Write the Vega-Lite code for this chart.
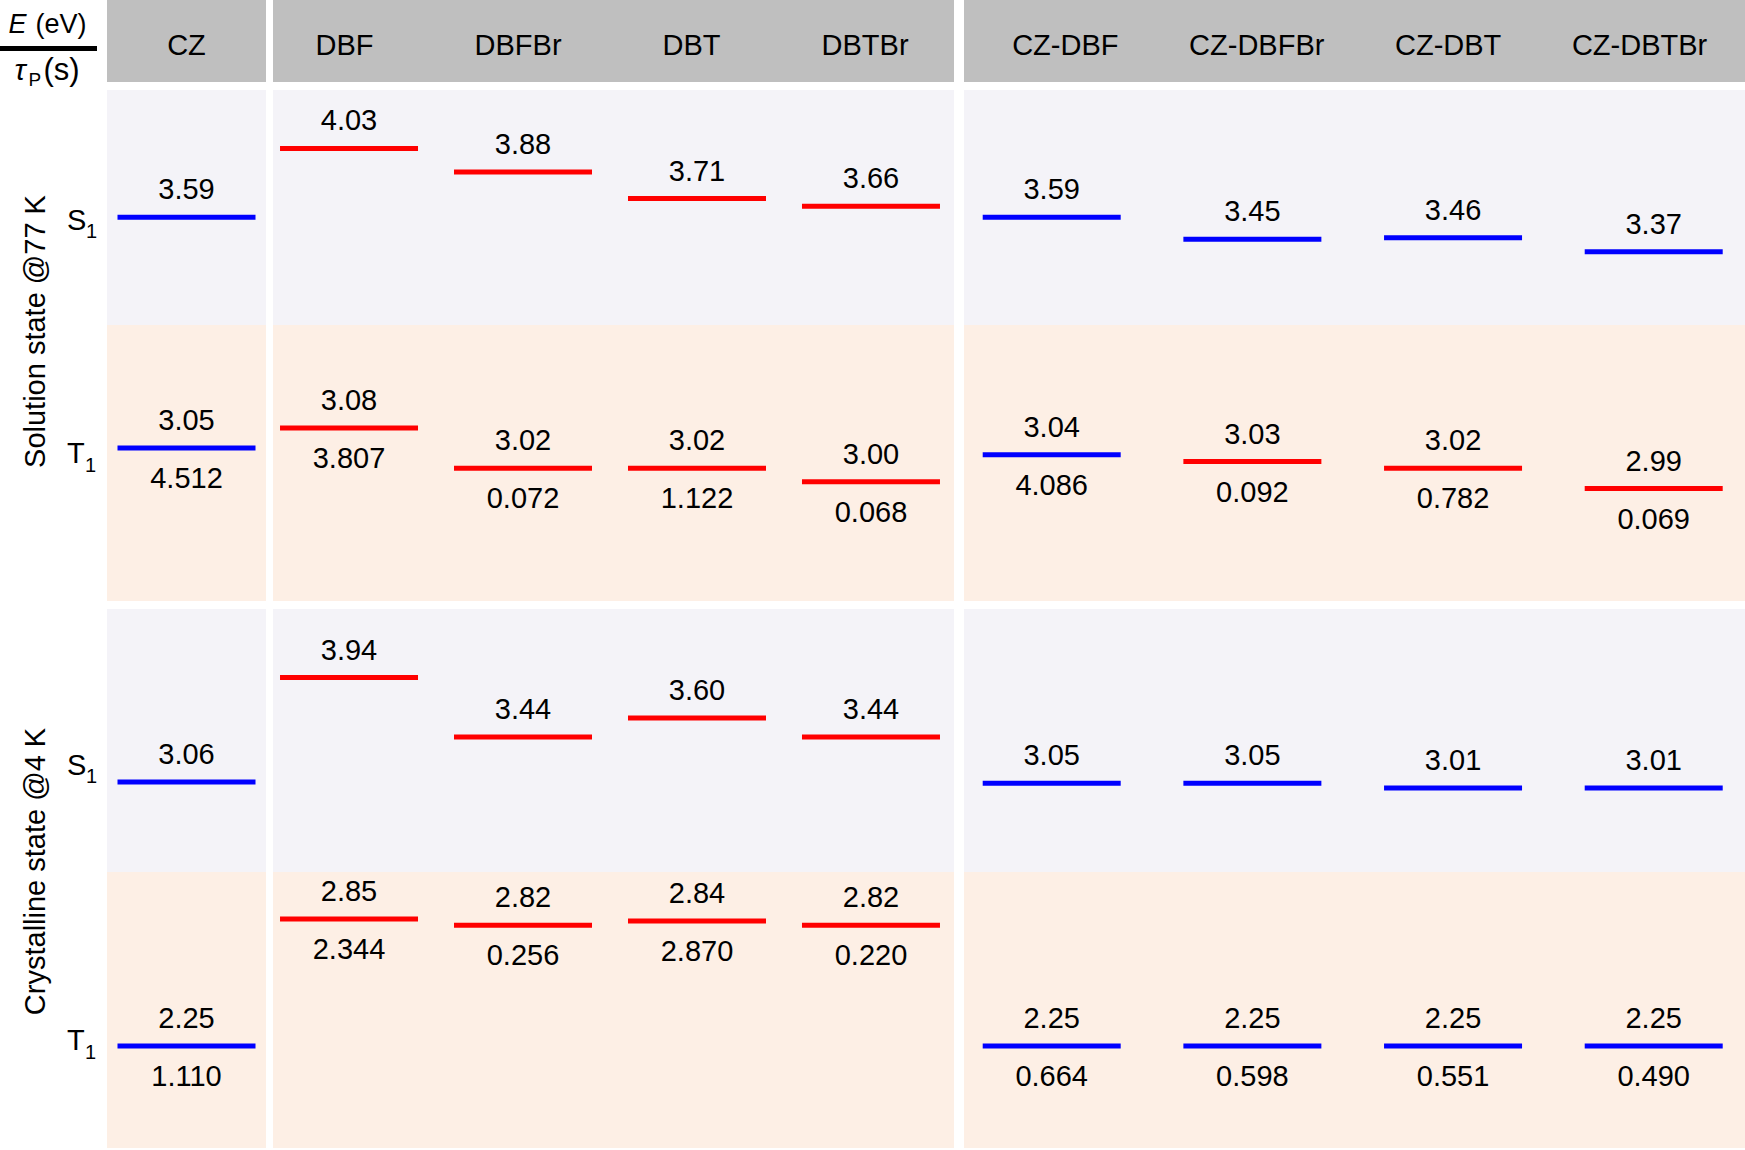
{
  "$schema": "https://vega.github.io/schema/vega-lite/v6.json",
  "padding": 0,
  "background": "white",
  "config": {"font": "Liberation Sans", "view": {"stroke": null}},
  "datasets": {
    "levels": [
      {"row": "sS", "grp": "a", "compound": "CZ", "E": 3.59, "unit": "CZ"},
      {"row": "sS", "grp": "b", "compound": "DBF", "E": 4.03, "unit": "DB"},
      {"row": "sS", "grp": "b", "compound": "DBFBr", "E": 3.88, "unit": "DB"},
      {"row": "sS", "grp": "b", "compound": "DBT", "E": 3.71, "unit": "DB"},
      {"row": "sS", "grp": "b", "compound": "DBTBr", "E": 3.66, "unit": "DB"},
      {"row": "sS", "grp": "c", "compound": "CZ-DBF", "E": 3.59, "unit": "CZ"},
      {"row": "sS", "grp": "c", "compound": "CZ-DBFBr", "E": 3.45, "unit": "CZ"},
      {"row": "sS", "grp": "c", "compound": "CZ-DBT", "E": 3.46, "unit": "CZ"},
      {"row": "sS", "grp": "c", "compound": "CZ-DBTBr", "E": 3.37, "unit": "CZ"},
      {"row": "sT", "grp": "a", "compound": "CZ", "E": 3.05, "tau": "4.512", "unit": "CZ"},
      {"row": "sT", "grp": "b", "compound": "DBF", "E": 3.08, "tau": "3.807", "unit": "DB"},
      {"row": "sT", "grp": "b", "compound": "DBFBr", "E": 3.02, "tau": "0.072", "unit": "DB"},
      {"row": "sT", "grp": "b", "compound": "DBT", "E": 3.02, "tau": "1.122", "unit": "DB"},
      {"row": "sT", "grp": "b", "compound": "DBTBr", "E": 3.00, "tau": "0.068", "unit": "DB"},
      {"row": "sT", "grp": "c", "compound": "CZ-DBF", "E": 3.04, "tau": "4.086", "unit": "CZ"},
      {"row": "sT", "grp": "c", "compound": "CZ-DBFBr", "E": 3.03, "tau": "0.092", "unit": "DB"},
      {"row": "sT", "grp": "c", "compound": "CZ-DBT", "E": 3.02, "tau": "0.782", "unit": "DB"},
      {"row": "sT", "grp": "c", "compound": "CZ-DBTBr", "E": 2.99, "tau": "0.069", "unit": "DB"},
      {"row": "cS", "grp": "a", "compound": "CZ", "E": 3.06, "unit": "CZ"},
      {"row": "cS", "grp": "b", "compound": "DBF", "E": 3.94, "unit": "DB"},
      {"row": "cS", "grp": "b", "compound": "DBFBr", "E": 3.44, "unit": "DB"},
      {"row": "cS", "grp": "b", "compound": "DBT", "E": 3.60, "unit": "DB"},
      {"row": "cS", "grp": "b", "compound": "DBTBr", "E": 3.44, "unit": "DB"},
      {"row": "cS", "grp": "c", "compound": "CZ-DBF", "E": 3.05, "unit": "CZ"},
      {"row": "cS", "grp": "c", "compound": "CZ-DBFBr", "E": 3.05, "unit": "CZ"},
      {"row": "cS", "grp": "c", "compound": "CZ-DBT", "E": 3.01, "unit": "CZ"},
      {"row": "cS", "grp": "c", "compound": "CZ-DBTBr", "E": 3.01, "unit": "CZ"},
      {"row": "cT", "grp": "a", "compound": "CZ", "E": 2.25, "tau": "1.110", "unit": "CZ"},
      {"row": "cT", "grp": "b", "compound": "DBF", "E": 2.85, "tau": "2.344", "unit": "DB"},
      {"row": "cT", "grp": "b", "compound": "DBFBr", "E": 2.82, "tau": "0.256", "unit": "DB"},
      {"row": "cT", "grp": "b", "compound": "DBT", "E": 2.84, "tau": "2.870", "unit": "DB"},
      {"row": "cT", "grp": "b", "compound": "DBTBr", "E": 2.82, "tau": "0.220", "unit": "DB"},
      {"row": "cT", "grp": "c", "compound": "CZ-DBF", "E": 2.25, "tau": "0.664", "unit": "CZ"},
      {"row": "cT", "grp": "c", "compound": "CZ-DBFBr", "E": 2.25, "tau": "0.598", "unit": "CZ"},
      {"row": "cT", "grp": "c", "compound": "CZ-DBT", "E": 2.25, "tau": "0.551", "unit": "CZ"},
      {"row": "cT", "grp": "c", "compound": "CZ-DBTBr", "E": 2.25, "tau": "0.490", "unit": "CZ"}
    ],
    "labels": [
      {"row": "sS", "main": "S", "sub": "1"},
      {"row": "sT", "main": "T", "sub": "1"},
      {"row": "cS", "main": "S", "sub": "1"},
      {"row": "cT", "main": "T", "sub": "1"}
    ],
    "titles": [
      {"block": "s", "t": "Solution state @77 K"},
      {"block": "c", "t": "Crystalline state @4 K"}
    ],
    "corner": [
      {"part": "top", "sym": "E", "unitText": "(eV)"},
      {"part": "bottom", "sym": "τ", "sub": "P", "unitText": "(s)"}
    ]
  },
  "spacing": 0,
  "vconcat": [
    {
      "spacing": 10,
      "hconcat": [
        {
          "spacing": 0,
          "vconcat": [
            {"width": 97, "height": 46, "data": {"name": "corner"}, "transform": [{"filter": "datum.part === 'top'"}],
             "layer": [
               {"mark": {"type": "text", "fontSize": 27, "fontStyle": "italic", "align": "left", "baseline": "alphabetic", "dx": -40, "dy": 10}, "encoding": {"text": {"field": "sym", "type": "nominal"}}},
               {"mark": {"type": "text", "fontSize": 27, "align": "left", "baseline": "alphabetic", "dx": -13, "dy": 10}, "encoding": {"text": {"field": "unitText", "type": "nominal"}}}
             ]},
            {"width": 97, "height": 5, "view": {"fill": "#000000", "stroke": null}, "data": {"name": "corner"}, "transform": [{"filter": "datum.part === 'none'"}],
             "mark": {"type": "text"}, "encoding": {"text": {"field": "sym", "type": "nominal"}}},
            {"width": 97, "height": 39, "data": {"name": "corner"}, "transform": [{"filter": "datum.part === 'bottom'"}],
             "layer": [
               {"mark": {"type": "text", "fontSize": 30, "fontStyle": "italic", "align": "left", "baseline": "alphabetic", "dx": -34, "dy": 9}, "encoding": {"text": {"field": "sym", "type": "nominal"}}},
               {"mark": {"type": "text", "fontSize": 19, "align": "left", "baseline": "alphabetic", "dx": -20, "dy": 15}, "encoding": {"text": {"field": "sub", "type": "nominal"}}},
               {"mark": {"type": "text", "fontSize": 31, "align": "left", "baseline": "alphabetic", "dx": -5, "dy": 9}, "encoding": {"text": {"field": "unitText", "type": "nominal"}}}
             ]}
          ]
        },
        {
          "spacing": 10,
          "hconcat": [
            {
              "spacing": 7,
              "hconcat": [
                {"width": 159, "height": 82, "view": {"fill": "#bfbfbf", "stroke": null}, "data": {"name": "levels"},
                 "transform": [{"filter": "datum.row === 'sS' && datum.grp === 'a'"}],
                 "mark": {"type": "text", "fontSize": 29, "baseline": "alphabetic", "dy": 14},
                 "encoding": {"x": {"field": "compound", "type": "nominal", "sort": null, "axis": null, "scale": {"type": "point", "padding": 0.5}},
                              "text": {"field": "compound", "type": "nominal"}}},
                {"width": 681, "height": 82, "view": {"fill": "#bfbfbf", "stroke": null}, "data": {"name": "levels"},
                 "transform": [{"filter": "datum.row === 'sS' && datum.grp === 'b'"}],
                 "mark": {"type": "text", "fontSize": 29, "baseline": "alphabetic", "dy": 14},
                 "encoding": {"x": {"field": "compound", "type": "nominal", "sort": null, "axis": null, "scale": {"type": "point", "padding": 0.4625, "align": 0.446}},
                              "text": {"field": "compound", "type": "nominal"}}}
              ]
            },
            {"width": 781, "height": 82, "view": {"fill": "#bfbfbf", "stroke": null}, "data": {"name": "levels"},
             "transform": [{"filter": "datum.row === 'sS' && datum.grp === 'c'"}],
             "mark": {"type": "text", "fontSize": 29, "baseline": "alphabetic", "dy": 14},
             "encoding": {"x": {"field": "compound", "type": "nominal", "sort": null, "axis": null, "scale": {"type": "point", "padding": 0.54, "align": 0.49}},
                          "text": {"field": "compound", "type": "nominal"}}}
          ]
        }
      ]
    },
    {
      "spacing": 8,
      "vconcat": [
        {
          "spacing": 0,
          "hconcat": [
            {"width": 64, "height": 511, "data": {"name": "titles"}, "transform": [{"filter": "datum.block === 's'"}],
             "mark": {"type": "text", "fontSize": 29, "angle": 270, "dx": 14, "dy": 4},
             "encoding": {"text": {"field": "t", "type": "nominal"}}},
            {
              "spacing": 0,
              "vconcat": [
                {
                  "spacing": 10,
                  "hconcat": [
                    {
                      "spacing": 7,
                      "hconcat": [
                        {"width": 36, "height": 235, "data": {"name": "labels"}, "transform": [{"filter": "datum.row === 'sS'"}],
                         "layer": [
                           {"mark": {"type": "text", "fontSize": 29, "align": "left", "baseline": "alphabetic", "dy": 22, "dx": -15}, "encoding": {"text": {"field": "main", "type": "nominal"}}},
                           {"mark": {"type": "text", "fontSize": 20, "align": "left", "baseline": "alphabetic", "dy": 30, "dx": 4}, "encoding": {"text": {"field": "sub", "type": "nominal"}}}
                         ]},
                        {"width": 159, "height": 235, "view": {"fill": "#f4f3f8", "stroke": null}, "data": {"name": "levels"},
                         "transform": [{"filter": "datum.row === 'sS' && datum.grp === 'a'"}],
                         "encoding": {"x": {"field": "compound", "type": "nominal", "sort": null, "axis": null, "scale": {"type": "point", "padding": 0.5}},
                                      "y": {"field": "E", "type": "quantitative", "axis": null, "scale": {"domain": [2.903, 4.4025], "nice": false, "zero": false}}},
                         "layer": [
                           {"mark": {"type": "tick", "thickness": 5, "size": 138, "opacity": 1},
                            "encoding": {"color": {"field": "unit", "type": "nominal", "legend": null, "scale": {"domain": ["CZ", "DB"], "range": ["#0000ff", "#ff0000"]}}}},
                           {"mark": {"type": "text", "fontSize": 29, "baseline": "alphabetic", "dy": -18},
                            "encoding": {"text": {"field": "E", "type": "quantitative", "format": ".2f"}}}
                         ]},
                        {"width": 681, "height": 235, "view": {"fill": "#f4f3f8", "stroke": null}, "data": {"name": "levels"},
                         "transform": [{"filter": "datum.row === 'sS' && datum.grp === 'b'"}],
                         "encoding": {"x": {"field": "compound", "type": "nominal", "sort": null, "axis": null, "scale": {"type": "point", "padding": 0.457, "align": 0.478}},
                                      "y": {"field": "E", "type": "quantitative", "axis": null, "scale": {"domain": [2.903, 4.4025], "nice": false, "zero": false}}},
                         "layer": [
                           {"mark": {"type": "tick", "thickness": 5, "size": 138, "opacity": 1},
                            "encoding": {"color": {"field": "unit", "type": "nominal", "legend": null, "scale": {"domain": ["CZ", "DB"], "range": ["#0000ff", "#ff0000"]}}}},
                           {"mark": {"type": "text", "fontSize": 29, "baseline": "alphabetic", "dy": -18},
                            "encoding": {"text": {"field": "E", "type": "quantitative", "format": ".2f"}}}
                         ]}
                      ]
                    },
                    {"width": 781, "height": 235, "view": {"fill": "#f4f3f8", "stroke": null}, "data": {"name": "levels"},
                     "transform": [{"filter": "datum.row === 'sS' && datum.grp === 'c'"}],
                     "encoding": {"x": {"field": "compound", "type": "nominal", "sort": null, "axis": null, "scale": {"type": "point", "padding": 0.446, "align": 0.49}},
                                  "y": {"field": "E", "type": "quantitative", "axis": null, "scale": {"domain": [2.903, 4.4025], "nice": false, "zero": false}}},
                     "layer": [
                       {"mark": {"type": "tick", "thickness": 5, "size": 138, "opacity": 1},
                        "encoding": {"color": {"field": "unit", "type": "nominal", "legend": null, "scale": {"domain": ["CZ", "DB"], "range": ["#0000ff", "#ff0000"]}}}},
                       {"mark": {"type": "text", "fontSize": 29, "baseline": "alphabetic", "dy": -18},
                        "encoding": {"text": {"field": "E", "type": "quantitative", "format": ".2f"}}}
                     ]}
                  ]
                },
                {
                  "spacing": 10,
                  "hconcat": [
                    {
                      "spacing": 7,
                      "hconcat": [
                        {"width": 36, "height": 276, "data": {"name": "labels"}, "transform": [{"filter": "datum.row === 'sT'"}],
                         "layer": [
                           {"mark": {"type": "text", "fontSize": 29, "align": "left", "baseline": "alphabetic", "dy": 0, "dx": -15}, "encoding": {"text": {"field": "main", "type": "nominal"}}},
                           {"mark": {"type": "text", "fontSize": 20, "align": "left", "baseline": "alphabetic", "dy": 9, "dx": 3}, "encoding": {"text": {"field": "sub", "type": "nominal"}}}
                         ]},
                        {"width": 159, "height": 276, "view": {"fill": "#fdefe5", "stroke": null}, "data": {"name": "levels"},
                         "transform": [{"filter": "datum.row === 'sT' && datum.grp === 'a'"}],
                         "encoding": {"x": {"field": "compound", "type": "nominal", "sort": null, "axis": null, "scale": {"type": "point", "padding": 0.5}},
                                      "y": {"field": "E", "type": "quantitative", "axis": null, "scale": {"domain": [2.8231, 3.2327], "nice": false, "zero": false}}},
                         "layer": [
                           {"mark": {"type": "tick", "thickness": 5, "size": 138, "opacity": 1},
                            "encoding": {"color": {"field": "unit", "type": "nominal", "legend": null, "scale": {"domain": ["CZ", "DB"], "range": ["#0000ff", "#ff0000"]}}}},
                           {"mark": {"type": "text", "fontSize": 29, "baseline": "alphabetic", "dy": -18},
                            "encoding": {"text": {"field": "E", "type": "quantitative", "format": ".2f"}}},
                           {"mark": {"type": "text", "fontSize": 29, "baseline": "alphabetic", "dy": 40},
                            "encoding": {"text": {"field": "tau", "type": "nominal"}}}
                         ]},
                        {"width": 681, "height": 276, "view": {"fill": "#fdefe5", "stroke": null}, "data": {"name": "levels"},
                         "transform": [{"filter": "datum.row === 'sT' && datum.grp === 'b'"}],
                         "encoding": {"x": {"field": "compound", "type": "nominal", "sort": null, "axis": null, "scale": {"type": "point", "padding": 0.457, "align": 0.478}},
                                      "y": {"field": "E", "type": "quantitative", "axis": null, "scale": {"domain": [2.8231, 3.2327], "nice": false, "zero": false}}},
                         "layer": [
                           {"mark": {"type": "tick", "thickness": 5, "size": 138, "opacity": 1},
                            "encoding": {"color": {"field": "unit", "type": "nominal", "legend": null, "scale": {"domain": ["CZ", "DB"], "range": ["#0000ff", "#ff0000"]}}}},
                           {"mark": {"type": "text", "fontSize": 29, "baseline": "alphabetic", "dy": -18},
                            "encoding": {"text": {"field": "E", "type": "quantitative", "format": ".2f"}}},
                           {"mark": {"type": "text", "fontSize": 29, "baseline": "alphabetic", "dy": 40},
                            "encoding": {"text": {"field": "tau", "type": "nominal"}}}
                         ]}
                      ]
                    },
                    {"width": 781, "height": 276, "view": {"fill": "#fdefe5", "stroke": null}, "data": {"name": "levels"},
                     "transform": [{"filter": "datum.row === 'sT' && datum.grp === 'c'"}],
                     "encoding": {"x": {"field": "compound", "type": "nominal", "sort": null, "axis": null, "scale": {"type": "point", "padding": 0.446, "align": 0.49}},
                                  "y": {"field": "E", "type": "quantitative", "axis": null, "scale": {"domain": [2.8231, 3.2327], "nice": false, "zero": false}}},
                     "layer": [
                       {"mark": {"type": "tick", "thickness": 5, "size": 138, "opacity": 1},
                        "encoding": {"color": {"field": "unit", "type": "nominal", "legend": null, "scale": {"domain": ["CZ", "DB"], "range": ["#0000ff", "#ff0000"]}}}},
                       {"mark": {"type": "text", "fontSize": 29, "baseline": "alphabetic", "dy": -18},
                        "encoding": {"text": {"field": "E", "type": "quantitative", "format": ".2f"}}},
                       {"mark": {"type": "text", "fontSize": 29, "baseline": "alphabetic", "dy": 40},
                        "encoding": {"text": {"field": "tau", "type": "nominal"}}}
                     ]}
                  ]
                }
              ]
            }
          ]
        },
        {
          "spacing": 0,
          "hconcat": [
            {"width": 64, "height": 539, "data": {"name": "titles"}, "transform": [{"filter": "datum.block === 'c'"}],
             "mark": {"type": "text", "fontSize": 29, "angle": 270, "dx": 7, "dy": 4},
             "encoding": {"text": {"field": "t", "type": "nominal"}}},
            {
              "spacing": 0,
              "vconcat": [
                {
                  "spacing": 10,
                  "hconcat": [
                    {
                      "spacing": 7,
                      "hconcat": [
                        {"width": 36, "height": 263, "data": {"name": "labels"}, "transform": [{"filter": "datum.row === 'cS'"}],
                         "layer": [
                           {"mark": {"type": "text", "fontSize": 29, "align": "left", "baseline": "alphabetic", "dy": 34, "dx": -15}, "encoding": {"text": {"field": "main", "type": "nominal"}}},
                           {"mark": {"type": "text", "fontSize": 20, "align": "left", "baseline": "alphabetic", "dy": 42, "dx": 4}, "encoding": {"text": {"field": "sub", "type": "nominal"}}}
                         ]},
                        {"width": 159, "height": 263, "view": {"fill": "#f4f3f8", "stroke": null}, "data": {"name": "levels"},
                         "transform": [{"filter": "datum.row === 'cS' && datum.grp === 'a'"}],
                         "encoding": {"x": {"field": "compound", "type": "nominal", "sort": null, "axis": null, "scale": {"type": "point", "padding": 0.5}},
                                      "y": {"field": "E", "type": "quantitative", "axis": null, "scale": {"domain": [2.303, 4.517], "nice": false, "zero": false}}},
                         "layer": [
                           {"mark": {"type": "tick", "thickness": 5, "size": 138, "opacity": 1},
                            "encoding": {"color": {"field": "unit", "type": "nominal", "legend": null, "scale": {"domain": ["CZ", "DB"], "range": ["#0000ff", "#ff0000"]}}}},
                           {"mark": {"type": "text", "fontSize": 29, "baseline": "alphabetic", "dy": -18},
                            "encoding": {"text": {"field": "E", "type": "quantitative", "format": ".2f"}}}
                         ]},
                        {"width": 681, "height": 263, "view": {"fill": "#f4f3f8", "stroke": null}, "data": {"name": "levels"},
                         "transform": [{"filter": "datum.row === 'cS' && datum.grp === 'b'"}],
                         "encoding": {"x": {"field": "compound", "type": "nominal", "sort": null, "axis": null, "scale": {"type": "point", "padding": 0.457, "align": 0.478}},
                                      "y": {"field": "E", "type": "quantitative", "axis": null, "scale": {"domain": [2.303, 4.517], "nice": false, "zero": false}}},
                         "layer": [
                           {"mark": {"type": "tick", "thickness": 5, "size": 138, "opacity": 1},
                            "encoding": {"color": {"field": "unit", "type": "nominal", "legend": null, "scale": {"domain": ["CZ", "DB"], "range": ["#0000ff", "#ff0000"]}}}},
                           {"mark": {"type": "text", "fontSize": 29, "baseline": "alphabetic", "dy": -18},
                            "encoding": {"text": {"field": "E", "type": "quantitative", "format": ".2f"}}}
                         ]}
                      ]
                    },
                    {"width": 781, "height": 263, "view": {"fill": "#f4f3f8", "stroke": null}, "data": {"name": "levels"},
                     "transform": [{"filter": "datum.row === 'cS' && datum.grp === 'c'"}],
                     "encoding": {"x": {"field": "compound", "type": "nominal", "sort": null, "axis": null, "scale": {"type": "point", "padding": 0.446, "align": 0.49}},
                                  "y": {"field": "E", "type": "quantitative", "axis": null, "scale": {"domain": [2.303, 4.517], "nice": false, "zero": false}}},
                     "layer": [
                       {"mark": {"type": "tick", "thickness": 5, "size": 138, "opacity": 1},
                        "encoding": {"color": {"field": "unit", "type": "nominal", "legend": null, "scale": {"domain": ["CZ", "DB"], "range": ["#0000ff", "#ff0000"]}}}},
                       {"mark": {"type": "text", "fontSize": 29, "baseline": "alphabetic", "dy": -18},
                        "encoding": {"text": {"field": "E", "type": "quantitative", "format": ".2f"}}}
                     ]}
                  ]
                },
                {
                  "spacing": 10,
                  "hconcat": [
                    {
                      "spacing": 7,
                      "hconcat": [
                        {"width": 36, "height": 276, "data": {"name": "labels"}, "transform": [{"filter": "datum.row === 'cT'"}],
                         "layer": [
                           {"mark": {"type": "text", "fontSize": 29, "align": "left", "baseline": "alphabetic", "dy": 40, "dx": -15}, "encoding": {"text": {"field": "main", "type": "nominal"}}},
                           {"mark": {"type": "text", "fontSize": 20, "align": "left", "baseline": "alphabetic", "dy": 49, "dx": 3}, "encoding": {"text": {"field": "sub", "type": "nominal"}}}
                         ]},
                        {"width": 159, "height": 276, "view": {"fill": "#fdefe5", "stroke": null}, "data": {"name": "levels"},
                         "transform": [{"filter": "datum.row === 'cT' && datum.grp === 'a'"}],
                         "encoding": {"x": {"field": "compound", "type": "nominal", "sort": null, "axis": null, "scale": {"type": "point", "padding": 0.5}},
                                      "y": {"field": "E", "type": "quantitative", "axis": null, "scale": {"domain": [1.768, 3.072], "nice": false, "zero": false}}},
                         "layer": [
                           {"mark": {"type": "tick", "thickness": 5, "size": 138, "opacity": 1},
                            "encoding": {"color": {"field": "unit", "type": "nominal", "legend": null, "scale": {"domain": ["CZ", "DB"], "range": ["#0000ff", "#ff0000"]}}}},
                           {"mark": {"type": "text", "fontSize": 29, "baseline": "alphabetic", "dy": -18},
                            "encoding": {"text": {"field": "E", "type": "quantitative", "format": ".2f"}}},
                           {"mark": {"type": "text", "fontSize": 29, "baseline": "alphabetic", "dy": 40},
                            "encoding": {"text": {"field": "tau", "type": "nominal"}}}
                         ]},
                        {"width": 681, "height": 276, "view": {"fill": "#fdefe5", "stroke": null}, "data": {"name": "levels"},
                         "transform": [{"filter": "datum.row === 'cT' && datum.grp === 'b'"}],
                         "encoding": {"x": {"field": "compound", "type": "nominal", "sort": null, "axis": null, "scale": {"type": "point", "padding": 0.457, "align": 0.478}},
                                      "y": {"field": "E", "type": "quantitative", "axis": null, "scale": {"domain": [1.768, 3.072], "nice": false, "zero": false}}},
                         "layer": [
                           {"mark": {"type": "tick", "thickness": 5, "size": 138, "opacity": 1},
                            "encoding": {"color": {"field": "unit", "type": "nominal", "legend": null, "scale": {"domain": ["CZ", "DB"], "range": ["#0000ff", "#ff0000"]}}}},
                           {"mark": {"type": "text", "fontSize": 29, "baseline": "alphabetic", "dy": -18},
                            "encoding": {"text": {"field": "E", "type": "quantitative", "format": ".2f"}}},
                           {"mark": {"type": "text", "fontSize": 29, "baseline": "alphabetic", "dy": 40},
                            "encoding": {"text": {"field": "tau", "type": "nominal"}}}
                         ]}
                      ]
                    },
                    {"width": 781, "height": 276, "view": {"fill": "#fdefe5", "stroke": null}, "data": {"name": "levels"},
                     "transform": [{"filter": "datum.row === 'cT' && datum.grp === 'c'"}],
                     "encoding": {"x": {"field": "compound", "type": "nominal", "sort": null, "axis": null, "scale": {"type": "point", "padding": 0.446, "align": 0.49}},
                                  "y": {"field": "E", "type": "quantitative", "axis": null, "scale": {"domain": [1.768, 3.072], "nice": false, "zero": false}}},
                     "layer": [
                       {"mark": {"type": "tick", "thickness": 5, "size": 138, "opacity": 1},
                        "encoding": {"color": {"field": "unit", "type": "nominal", "legend": null, "scale": {"domain": ["CZ", "DB"], "range": ["#0000ff", "#ff0000"]}}}},
                       {"mark": {"type": "text", "fontSize": 29, "baseline": "alphabetic", "dy": -18},
                        "encoding": {"text": {"field": "E", "type": "quantitative", "format": ".2f"}}},
                       {"mark": {"type": "text", "fontSize": 29, "baseline": "alphabetic", "dy": 40},
                        "encoding": {"text": {"field": "tau", "type": "nominal"}}}
                     ]}
                  ]
                }
              ]
            }
          ]
        }
      ]
    }
  ]
}
